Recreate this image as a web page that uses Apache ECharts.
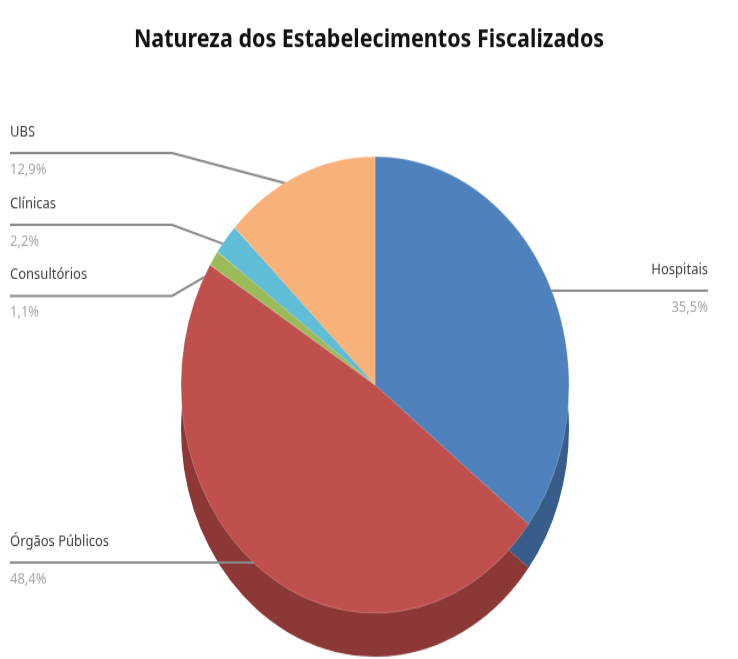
<!DOCTYPE html>
<html>
<head>
<meta charset="utf-8">
<script src="https://cdn.jsdelivr.net/npm/echarts@6/dist/echarts.min.js"></script>
<style>
  html, body { margin: 0; padding: 0; background: #fff; }
  #wrap { width: 738px; height: 659px; overflow: hidden; }
  /* source picture is stretched vertically, so draw flat and stretch the same way */
  #main { width: 738px; height: 560px; transform: scaleY(1.1768); transform-origin: 0 0; }
</style>
</head>
<body>
<div id="wrap"><div id="main"></div></div>
<script>
var categories = ['Hospitais', 'Órgãos Públicos', 'Consultórios', 'Clínicas', 'UBS']
var shares = [35.5, 48.4, 1.1, 2.2, 12.9]

var topColors = ['#4f81bd', '#c0504d', '#9bbb59', '#5fbdd6', '#f9b17a']
var sideColors = ['#385d8a', '#8c3836', '#71893f', '#37869b', '#b6804f']

var center = [375, 327]
var radius = 194
var depth = 37

// where each leader line runs: y of the horizontal part, side, bend x
var labelSpots = {
  'UBS': { y: 130, side: 'left', bend: 172 },
  'Clínicas': { y: 191, side: 'left', bend: 172 },
  'Consultórios': { y: 251.5, side: 'left', bend: 172 },
  'Órgãos Públicos': { y: 478, side: 'left', bend: null },
  'Hospitais': { y: 247, side: 'right', bend: null }
}

var chart = echarts.init(document.getElementById('main'))

var pieData = categories.map(function (name, i) {
  return { name: name, value: shares[i], itemStyle: { color: topColors[i] } }
})
var sideData = categories.map(function (name, i) {
  return { name: name, value: shares[i], itemStyle: { color: sideColors[i] } }
})

function fmt (v) {
  return v.toFixed(1).replace('.', ',') + '%'
}

chart.setOption({
  animation: false,
  title: {
    text: 'Natureza dos Estabelecimentos Fiscalizados',
    left: 'center',
    top: 18,
    textStyle: {
      fontFamily: 'Noto Sans',
      fontSize: 21.5,
      fontWeight: 'bold',
      color: '#111'
    }
  },
  series: [
    {
      // side wall of the 3d pie
      type: 'pie',
      z: 1,
      silent: true,
      center: [center[0], center[1] + depth],
      radius: radius,
      startAngle: 90,
      label: { show: false },
      labelLine: { show: false },
      data: sideData
    },
    {
      type: 'pie',
      z: 2,
      center: center,
      radius: radius,
      startAngle: 90,
      itemStyle: { borderColor: 'rgba(255,255,255,0.35)', borderWidth: 0.6 },
      label: {
        show: true,
        position: 'outside',
        formatter: function (p) {
          return '{n|' + p.name + '}\n{p|' + fmt(p.value) + '}'
        },
        rich: {
          n: { fontFamily: 'Noto Sans', fontSize: 13, color: '#404040', lineHeight: 32 },
          p: { fontFamily: 'Noto Sans', fontSize: 13, color: '#a6a6a6', lineHeight: 32 }
        }
      },
      labelLine: {
        show: true,
        lineStyle: { color: '#8a8a8a', width: 2 }
      },
      labelLayout: function (params) {
        var name = categories[params.dataIndex]
        var spot = labelSpots[name]
        var pts = params.labelLinePoints
        var start = pts ? pts[0] : center
        var dx = start[0] - center[0]
        var dy = start[1] - center[1]
        var len = Math.sqrt(dx * dx + dy * dy) || 1
        var inner = [center[0] + dx / len * 182, center[1] + dy / len * 182]
        var line
        if (spot.side === 'left') {
          line = spot.bend !== null
            ? [inner, [spot.bend, spot.y], [10, spot.y]]
            : [inner, [inner[0], spot.y], [10, spot.y]]
          return {
            x: 10,
            y: spot.y - 2,
            align: 'left',
            verticalAlign: 'middle',
            labelLinePoints: line
          }
        }
        line = [inner, [inner[0], spot.y], [708, spot.y]]
        return {
          x: 708,
          y: spot.y - 2,
          align: 'right',
          verticalAlign: 'middle',
          labelLinePoints: line
        }
      },
      data: pieData
    }
  ]
})
</script>
</body>
</html>
